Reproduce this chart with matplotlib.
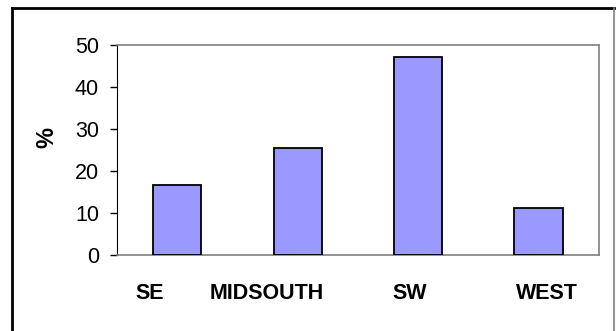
import numpy as np
import matplotlib.pyplot as plt
from matplotlib.lines import Line2D

regions = ['SE', 'MIDSOUTH', 'SW', 'WEST']
values = [16.7, 25.4, 47.1, 11.2]
label_pos = [-0.23, 0.745, 1.93, 3.07]  # labels sit a bit off the bar centres
yticks = [0, 10, 20, 30, 40, 50]

plt.rcParams['font.family'] = ['Liberation Sans', 'DejaVu Sans']

fig = plt.figure(figsize=(6.16, 3.31), dpi=100)
ax = fig.add_axes([0.19, 0.2296, 0.782, 0.6344])

x = np.arange(len(regions))
ax.bar(x, values, width=0.40, color='#9999ff', edgecolor='black', linewidth=1.3, zorder=3)

ax.set_xlim(-0.5, 3.5)
ax.set_ylim(0, 50)
ax.set_yticks(yticks)
ax.tick_params(axis='y', direction='out', length=5, width=1, labelsize=15.5, pad=8)
ax.set_xticks(label_pos)
ax.set_xticklabels(regions, fontsize=15.5, fontweight='bold')
ax.tick_params(axis='x', length=0, pad=20)
ax.set_ylabel('%', fontsize=17, fontweight='bold', labelpad=12, y=0.56)

ax.spines['left'].set_color('black')
for s in ['top', 'right', 'bottom']:
    ax.spines[s].set_color('#808080')
    ax.spines[s].set_linewidth(1.2)

# outer chart border (bottom edge is cut off in the original)
fig.add_artist(Line2D([12/616, 12/616], [0, 1 - 8/331], color='black', lw=2))
fig.add_artist(Line2D([12/616, 614/616], [1 - 8/331, 1 - 8/331], color='black', lw=2))
fig.add_artist(Line2D([614/616, 614/616], [0, 1 - 8/331], color='#808080', lw=1.2))

fig.savefig('out.png', dpi=100)
